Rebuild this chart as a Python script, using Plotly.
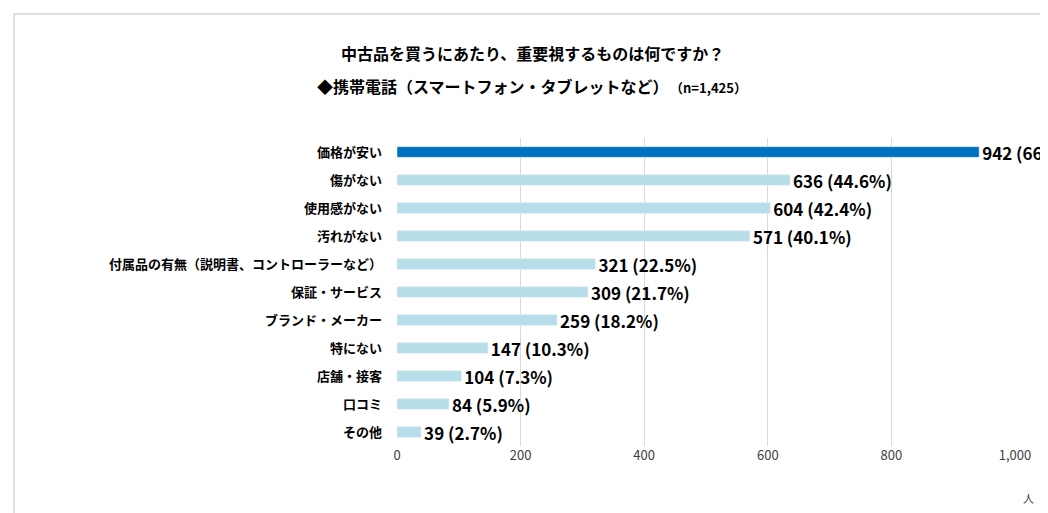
import plotly.graph_objects as go

categories = ["価格が安い","傷がない","使用感がない","汚れがない","付属品の有無（説明書、コントローラーなど）",
              "保証・サービス","ブランド・メーカー","特にない","店舗・接客","口コミ","その他"]
values = [942,636,604,571,321,309,259,147,104,84,39]
percents = ["66.1%","44.6%","42.4%","40.1%","22.5%","21.7%","18.2%","10.3%","7.3%","5.9%","2.7%"]
colors = ["#0070C0"] + ["#B7DDE8"]*10
labels = [f"{v} ({p})" for v, p in zip(values, percents)]

font = "Noto Sans CJK JP"
W, H, L, R, T, B = 1048, 513, 389, 41, 130, 75
PW, PH = W - L - R, H - T - B

fig = go.Figure(go.Bar(
    x=values, y=categories, orientation="h", marker_color=colors,
    width=0.38, text=labels, textposition="outside", cliponaxis=False,
    constraintext="none",
    textfont=dict(size=17, color="#000", family=font, weight="bold"),
))

def px(x, y):
    return (x - L) / PW, (H - y - B) / PH

annos = []
for txt, x, y, sz, col in [
    ("中古品を買うにあたり、重要視するものは何ですか？", 524, 45, 16, "#000"),
    ("◆携帯電話（スマートフォン・タブレットなど）　<span style='font-size:13px'>（n=1,425）</span>", 524, 78, 16, "#000"),
    ("人", 1020, 490, 11, "#404040"),
]:
    ax, ay = px(x, y)
    annos.append(dict(text=txt, x=ax, y=ay, xref="paper", yref="paper", xanchor="center",
                      yanchor="middle", showarrow=False, font=dict(size=sz, color=col, weight="bold" if sz == 16 else None)))

x0, y0 = px(6, 506)
x1, y1 = px(1042, 6)
fig.update_layout(
    width=W, height=H, plot_bgcolor="white", paper_bgcolor="white",
    margin=dict(l=L, r=R, t=T, b=B),
    font=dict(family=font, color="#000"),
    showlegend=False,
    xaxis=dict(range=[0, 1000], tickvals=[0,200,400,600,800,1000],
               ticktext=["0","200","400","600","800","1,000"],
               showgrid=True, gridcolor="#D9D9D9", zeroline=False,
               tickfont=dict(size=13, color="#404040"), ticks=""),
    yaxis=dict(autorange="reversed", tickfont=dict(size=13, weight="bold"),
               showline=False, ticks="", ticklabelstandoff=14),
    shapes=[dict(type="rect", xref="paper", yref="paper", x0=x0, x1=x1, y0=y0, y1=y1,
                 line=dict(color="#BFBFBF", width=1))],
    annotations=annos,
)
fig.write_html("out.html")
